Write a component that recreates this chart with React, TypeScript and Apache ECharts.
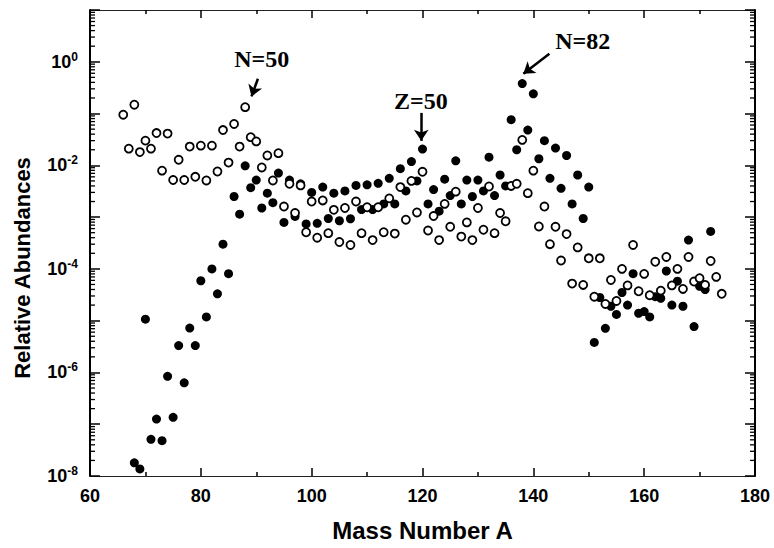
import React, { useEffect, useRef } from 'react';
import * as echarts from 'echarts';

// Filled circles (mass numbers and relative abundances)
const filledMass = [
  68, 69, 70, 71, 72, 73, 74, 75, 76, 77, 78, 79, 80, 81, 82, 83, 84, 85, 86, 87,
  88, 89, 90, 91, 92, 93, 94, 95, 96, 97, 98, 99, 100, 101, 102, 103, 104, 105, 106, 107,
  108, 109, 110, 111, 112, 113, 114, 115, 116, 117, 118, 119, 120, 121, 122, 123, 124, 125, 126, 127,
  128, 129, 130, 131, 132, 133, 134, 135, 136, 137, 138, 139, 140, 141, 142, 143, 144, 145, 146, 147,
  148, 149, 150, 151, 152, 153, 154, 155, 156, 157, 158, 159, 160, 161, 162, 163, 164, 165, 166, 167,
  168, 169, 170, 171, 172,
];
const filledValues = [
  1.8e-8, 1.37e-8, 1.07e-5, 5.1e-8, 1.26e-7, 4.8e-8, 8.4e-7, 1.36e-7, 3.3e-6, 6.3e-7,
  7.2e-6, 3.3e-6, 5.9e-5, 1.18e-5, 1.0e-4, 3.3e-5, 3.0e-4, 8.1e-5, 2.5e-3, 1.14e-3,
  9.8e-3, 3.7e-3, 5.2e-3, 1.5e-3, 2.9e-3, 1.9e-3, 7.1e-3, 7.9e-4, 5.2e-3, 1.03e-3,
  4.4e-3, 7.4e-4, 3.0e-3, 7.6e-4, 3.8e-3, 9.4e-4, 2.9e-3, 8.5e-4, 3.2e-3, 9.3e-4,
  4.1e-3, 1.4e-3, 4.2e-3, 1.4e-3, 4.5e-3, 1.8e-3, 5.6e-3, 1.8e-3, 8.6e-3, 3.2e-3,
  1.18e-2, 5.0e-3, 2.06e-2, 1.8e-3, 3.4e-3, 1.3e-3, 5.4e-3, 2.6e-3, 1.22e-2, 1.8e-3,
  5.2e-3, 2.5e-3, 5.2e-3, 3.2e-3, 1.44e-2, 2.6e-3, 6.5e-3, 4.0e-3, 7.6e-2, 2.0e-2,
  0.38, 4.8e-2, 0.24, 1.34e-2, 3.0e-2, 5.6e-3, 2.15e-2, 3.6e-3, 1.55e-2, 1.8e-3,
  6.5e-3, 9.4e-4, 3.8e-3, 3.8e-6, 2.8e-5, 7.1e-6, 1.9e-5, 1.32e-5, 3.5e-5, 2.0e-5,
  8.1e-5, 1.39e-5, 1.5e-5, 1.18e-5, 2.9e-5, 2.7e-5, 9.1e-5, 2.0e-5, 5.8e-5, 1.9e-5,
  3.6e-4, 7.7e-6, 4.6e-5, 4.0e-5, 5.3e-4,
];

// Open circles
const openMass = [
  66, 67, 68, 69, 70, 71, 72, 73, 74, 75, 76, 77, 78, 79, 80, 81, 82, 83, 84, 85,
  86, 87, 88, 89, 90, 91, 92, 93, 94, 95, 96, 97, 98, 99, 100, 101, 102, 103, 104, 105,
  106, 107, 108, 109, 110, 111, 112, 113, 114, 115, 116, 117, 118, 119, 120, 121, 122, 123, 124, 125,
  126, 127, 128, 129, 130, 131, 132, 133, 134, 135, 136, 137, 138, 139, 140, 141, 142, 143, 144, 145,
  146, 147, 148, 149, 150, 151, 152, 153, 154, 155, 156, 157, 158, 159, 160, 161, 162, 163, 164, 165,
  166, 167, 168, 169, 170, 171, 172, 173, 174,
];
const openValues = [
  0.095, 0.021, 0.148, 0.018, 0.03, 0.021, 0.042, 0.0079, 0.041, 0.0052,
  0.0128, 0.0052, 0.023, 0.006, 0.024, 0.0051, 0.024, 0.0076, 0.048, 0.0113,
  0.063, 0.023, 0.133, 0.035, 0.029, 0.0091, 0.0155, 0.0051, 0.0172, 0.0016,
  0.0044, 0.0012, 0.0041, 5.1e-4, 0.002, 4.0e-4, 0.0021, 4.9e-4, 0.00138, 3.3e-4,
  0.0015, 2.9e-4, 0.002, 4.9e-4, 0.00155, 3.6e-4, 0.00155, 5.1e-4, 0.0023, 4.8e-4,
  0.0038, 8.9e-4, 0.005, 0.00123, 0.0075, 5.5e-4, 0.00105, 3.6e-4, 0.0018, 6.5e-4,
  0.0031, 4.2e-4, 7.9e-4, 3.6e-4, 0.0015, 5.7e-4, 0.0039, 4.9e-4, 0.0012, 8.3e-4,
  0.004, 0.0044, 0.031, 0.0029, 0.0079, 6.6e-4, 0.0016, 3.0e-4, 6.5e-4, 1.45e-4,
  4.7e-4, 5.2e-5, 2.6e-4, 4.9e-5, 1.6e-4, 2.9e-5, 1.6e-4, 2.1e-5, 6.1e-5, 2.4e-5,
  1.0e-4, 4.8e-5, 2.9e-4, 3.7e-5, 8.0e-5, 3.1e-5, 1.37e-4, 3.8e-5, 1.7e-4, 4.8e-5,
  1.0e-4, 4.1e-5, 1.7e-4, 5.7e-5, 6.6e-5, 4.9e-5, 1.42e-4, 7.0e-5, 3.3e-5,
];

// Axis definitions
const xMin = 60;
const xMax = 180;
const xStep = 20;
const yMin = 1e-8;
const yMax = 10;
const decadeExponents = [-8, -7, -6, -5, -4, -3, -2, -1, 0];
const minorMultipliers = [2, 3, 4, 5, 6, 7, 8, 9];

// Annotations (text anchored at data coordinates)
const annotationTexts = ['N=50', 'Z=50', 'N=82'];
const annotationAnchors = [
  [91.0, 1.14],
  [119.7, 0.176],
  [148.9, 2.55],
];
const arrowStarts = [
  [90.3, 0.47],
  [119.77, 0.103],
  [142.9, 1.43],
];
const arrowEnds = [
  [89.14, 0.214],
  [119.77, 0.0297],
  [138.2, 0.586],
];

const SANS = '"Liberation Sans", Arial, Helvetica, sans-serif';
const SERIF = '"Liberation Serif", "Times New Roman", serif';

export default function App() {
  const ref = useRef<HTMLDivElement>(null);

  useEffect(() => {
    if (!ref.current) return;
    const chart = echarts.init(ref.current, undefined, { renderer: 'svg' });

    const minorTickData: number[][] = [];
    decadeExponents.forEach((e) => {
      minorMultipliers.forEach((m) => {
        minorTickData.push([xMin, m * Math.pow(10, e)]);
      });
    });

    const filledData = filledMass.map((a, i) => [a, filledValues[i]]);
    const openData = openMass.map((a, i) => [a, openValues[i]]);

    const axisLineDark = { show: true, lineStyle: { color: '#000', width: 2 } };
    const axisLineLight = { show: true, lineStyle: { color: '#222', width: 1.2 } };

    const option: any = {
      animation: false,
      backgroundColor: '#fff',
      grid: {
        left: 90,
        right: 19,
        top: 10,
        bottom: 72,
        containLabel: false,
        outerBoundsMode: 'none',
      },
      xAxis: [
        {
          type: 'value',
          position: 'bottom',
          min: xMin,
          max: xMax,
          interval: xStep,
          axisLine: axisLineLight,
          axisTick: { show: true, inside: true, length: 8, lineStyle: { color: '#000', width: 1.5 } },
          minorTick: { show: true, splitNumber: 2, length: 4, lineStyle: { color: '#000', width: 1.5 } },
          splitLine: { show: false },
          axisLabel: {
            show: true,
            margin: 11,
            color: '#000',
            fontFamily: SANS,
            fontWeight: 'bold',
            fontSize: 18,
          },
          name: 'Mass Number A',
          nameLocation: 'middle',
          nameGap: 42,
          nameTextStyle: { color: '#000', fontFamily: SANS, fontWeight: 'bold', fontSize: 24 },
        },
        {
          type: 'value',
          position: 'top',
          min: xMin,
          max: xMax,
          interval: xStep,
          axisLine: axisLineLight,
          axisTick: { show: true, inside: true, length: 8, lineStyle: { color: '#000', width: 1.5 } },
          minorTick: { show: true, splitNumber: 2, length: 4, lineStyle: { color: '#000', width: 1.5 } },
          splitLine: { show: false },
          axisLabel: { show: false },
        },
      ],
      yAxis: [
        {
          type: 'log',
          logBase: 10,
          position: 'left',
          min: yMin,
          max: yMax,
          splitNumber: 9,
          axisLine: axisLineDark,
          axisTick: { show: true, inside: true, length: 10, lineStyle: { color: '#000', width: 1.5 } },
          splitLine: { show: false },
          axisLabel: {
            show: true,
            margin: 12,
            formatter: (v: number) => {
              const e = Math.round(Math.log10(v));
              if (e > 0 || e % 2 !== 0) return '';
              return `{b|10}{s|${e}}`;
            },
            rich: {
              b: { fontFamily: SANS, fontWeight: 'bold', fontSize: 18, color: '#000', lineHeight: 22 },
              s: { fontFamily: SANS, fontWeight: 'bold', fontSize: 12, color: '#000', verticalAlign: 'top', lineHeight: 12 },
            },
          },
          name: 'Relative Abundances',
          nameLocation: 'middle',
          nameGap: 57,
          nameRotate: 90,
          nameTextStyle: {
            color: '#000',
            fontFamily: SANS,
            fontWeight: 'bold',
            fontSize: 22,
            padding: [0, 50, 0, 0],
          },
        },
        {
          type: 'log',
          logBase: 10,
          position: 'right',
          min: yMin,
          max: yMax,
          splitNumber: 9,
          axisLine: axisLineDark,
          axisTick: { show: true, inside: true, length: 10, lineStyle: { color: '#000', width: 1.5 } },
          splitLine: { show: false },
          axisLabel: { show: false },
        },
      ],
      series: [
        {
          type: 'custom',
          name: 'minor ticks',
          xAxisIndex: 0,
          yAxisIndex: 0,
          silent: true,
          clip: false,
          data: minorTickData,
          renderItem: (_params: any, api: any) => {
            const v = api.value(1);
            const pL = api.coord([xMin, v]);
            const pR = api.coord([xMax, v]);
            return {
              type: 'group',
              children: [
                {
                  type: 'line',
                  shape: { x1: pL[0], y1: pL[1], x2: pL[0] + 5, y2: pL[1] },
                  style: { stroke: '#000', lineWidth: 1.3 },
                },
                {
                  type: 'line',
                  shape: { x1: pR[0], y1: pR[1], x2: pR[0] - 5, y2: pR[1] },
                  style: { stroke: '#000', lineWidth: 1.3 },
                },
              ],
            };
          },
        },
        {
          type: 'scatter',
          name: 'filled',
          xAxisIndex: 0,
          yAxisIndex: 0,
          silent: true,
          data: filledData,
          symbol: 'circle',
          symbolSize: 9,
          itemStyle: { color: '#000', opacity: 1 },
          markLine: {
            silent: true,
            symbol: ['none', 'arrow'],
            symbolSize: 11,
            lineStyle: { color: '#000', width: 2.5, type: 'solid' },
            label: { show: false },
            data: arrowStarts.map((s, i) => [{ coord: s }, { coord: arrowEnds[i] }]),
          },
          markPoint: {
            silent: true,
            symbol: 'circle',
            symbolSize: 1,
            itemStyle: { color: 'rgba(0,0,0,0)' },
            label: {
              show: true,
              position: 'inside',
              formatter: '{b}',
              color: '#000',
              fontFamily: SERIF,
              fontWeight: 'bold',
              fontSize: 24,
            },
            data: annotationTexts.map((t, i) => ({ name: t, coord: annotationAnchors[i] })),
          },
        },
        {
          type: 'scatter',
          name: 'open',
          xAxisIndex: 0,
          yAxisIndex: 0,
          silent: true,
          data: openData,
          symbol: 'circle',
          symbolSize: 8,
          itemStyle: { color: '#fff', borderColor: '#000', borderWidth: 1.8, opacity: 1 },
        },
      ],
    };

    chart.setOption(option);
    return () => {
      chart.dispose();
    };
  }, []);

  return (
    <div
      ref={ref}
      style={{ position: 'absolute', left: 0, top: 0, width: 774, height: 548, background: '#fff' }}
    />
  );
}
